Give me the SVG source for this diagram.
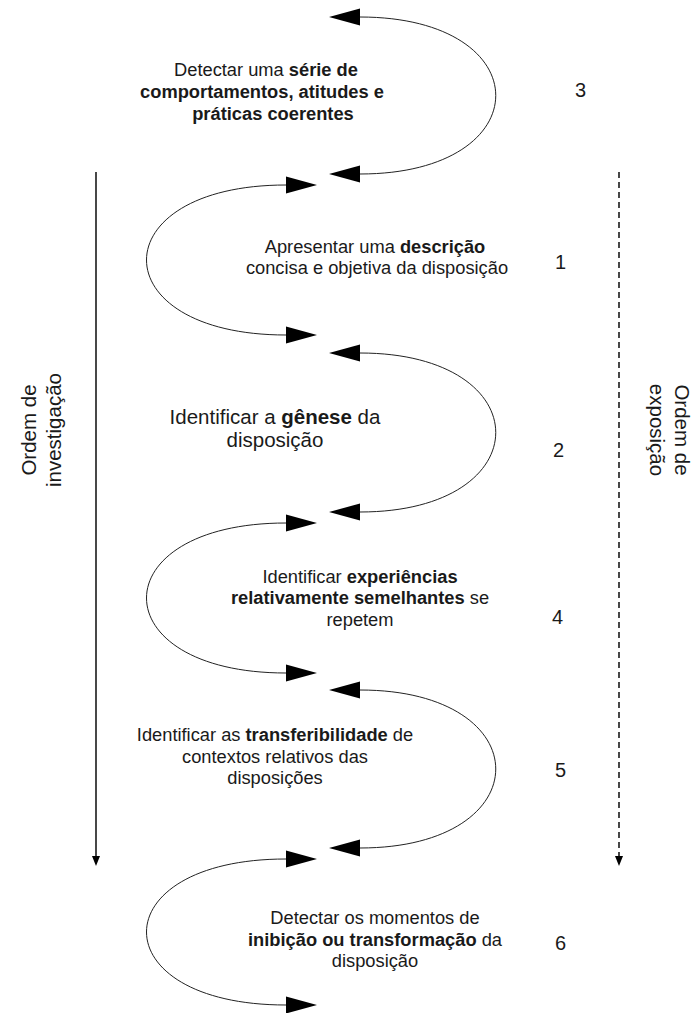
<svg xmlns="http://www.w3.org/2000/svg" width="695" height="1013" viewBox="0 0 695 1013">
<style>
  text { font-family: "Liberation Sans", Arial, sans-serif; font-size: 18.3px; fill: #1a1a1a; }
  .c { text-anchor: middle; }
  .b { font-weight: bold; }
  .big { font-size: 20.5px; }
  .num { font-size: 20px; }
  .curve { fill: none; stroke: #222; stroke-width: 1; marker-start: url(#head); marker-end: url(#head); }
  .axis { fill: none; stroke: #1a1a1a; stroke-width: 1.6; marker-end: url(#small); }
  .dash { stroke-dasharray: 6 4; }
</style>
<defs>
  <marker id="head" markerUnits="userSpaceOnUse" markerWidth="32" markerHeight="18" refX="0" refY="8.5" orient="auto-start-reverse" overflow="visible">
    <path d="M0,0 L31,8.5 L0,17 z" fill="#000"/>
  </marker>
  <marker id="small" markerUnits="userSpaceOnUse" markerWidth="10" markerHeight="10" refX="0" refY="4" orient="auto" overflow="visible">
    <path d="M0,0 L10,4 L0,8 z" fill="#000"/>
  </marker>
</defs>
<g id="connectors">
  <path class="curve" d="M360,17 C541,17 541,174 360,174"/>
  <path class="curve" d="M286,185 C100,185 100,335 286,335"/>
  <path class="curve" d="M360,353 C541,353 541,512 360,512"/>
  <path class="curve" d="M286,523 C100,523 100,673 286,673"/>
  <path class="curve" d="M360,690 C541,690 541,848 360,848"/>
  <path class="curve" d="M286,859 C100,859 100,1005 286,1005"/>
  <path class="axis" d="M96,172 L96,856"/>
  <path class="axis dash" d="M619,172 L619,856"/>
</g>
<g id="step3">
  <text class="c" x="266" y="76">Detectar uma <tspan class="b">série de</tspan></text>
  <text class="c b" x="262" y="98">comportamentos, atitudes e</text>
  <text class="c b" x="273" y="120">práticas coerentes</text>
  <text class="num" x="575" y="97">3</text>
</g>
<g id="step1">
  <text class="c" x="375" y="253">Apresentar uma <tspan class="b">descrição</tspan></text>
  <text class="c" x="377" y="274">concisa e objetiva da disposição</text>
  <text class="num" x="555" y="269">1</text>
</g>
<g id="step2">
  <text class="c big" x="275" y="424">Identificar a <tspan class="b">gênese</tspan> da</text>
  <text class="c big" x="275" y="447">disposição</text>
  <text class="num" x="553" y="457">2</text>
</g>
<g id="step4">
  <text class="c" x="360" y="583">Identificar <tspan class="b">experiências</tspan></text>
  <text class="c" x="360" y="604"><tspan class="b">relativamente semelhantes</tspan> se</text>
  <text class="c" x="360" y="626">repetem</text>
  <text class="num" x="552" y="624">4</text>
</g>
<g id="step5">
  <text class="c" x="275" y="741">Identificar as <tspan class="b">transferibilidade</tspan> de</text>
  <text class="c" x="275" y="763">contextos relativos das</text>
  <text class="c" x="275" y="784">disposições</text>
  <text class="num" x="555" y="777">5</text>
</g>
<g id="step6">
  <text class="c" x="375" y="924">Detectar os momentos de</text>
  <text class="c" x="375" y="946"><tspan class="b">inibição ou transformação</tspan> da</text>
  <text class="c" x="375" y="967">disposição</text>
  <text class="num" x="555" y="950">6</text>
</g>
<g id="investigacao">
  <text class="c big" transform="translate(29,430) rotate(-90)" y="7">Ordem de</text>
  <text class="c big" transform="translate(54,430) rotate(-90)" y="7">investigação</text>
</g>
<g id="exposicao">
  <text class="c big" transform="translate(682,430) rotate(90)" y="7">Ordem de</text>
  <text class="c big" transform="translate(657,430) rotate(90)" y="7">exposição</text>
</g>
</svg>
